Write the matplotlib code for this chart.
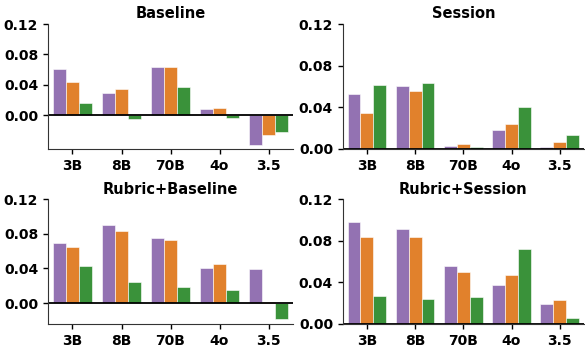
import numpy as np
import matplotlib
matplotlib.use('Agg')
import matplotlib.pyplot as plt

models = ['3B', '8B', '70B', '4o', '3.5']
colors = ['#9372b2', '#e1812c', '#3a923a']

# three series per panel (purple, orange, green)
baseline = [
    [0.061, 0.029, 0.063, 0.0087, -0.039],
    [0.0436, 0.0345, 0.0637, 0.010, -0.0253],
    [0.0166, -0.0048, 0.0371, -0.0039, -0.0223],
]
session = [
    [0.0525, 0.0608, 0.0032, 0.0181, 0.0016],
    [0.0344, 0.0557, 0.0045, 0.0236, 0.0067],
    [0.0618, 0.063, 0.0016, 0.0404, 0.0137],
]
rubric_baseline = [
    [0.0698, 0.0897, 0.0748, 0.0406, 0.0391],
    [0.0648, 0.0836, 0.0725, 0.0449, 0.0012],
    [0.0429, 0.0245, 0.0192, 0.0157, -0.0184],
]
rubric_session = [
    [0.0984, 0.091, 0.056, 0.0376, 0.0191],
    [0.084, 0.084, 0.050, 0.0468, 0.0229],
    [0.0271, 0.0236, 0.0264, 0.0719, 0.006],
]

titles = ['Baseline', 'Session', 'Rubric+Baseline', 'Rubric+Session']
panels = [baseline, session, rubric_baseline, rubric_session]
ylims = [(-0.044, 0.12), (0, 0.12), (-0.024, 0.12), (0, 0.12)]

fig = plt.figure(figsize=(5.85, 3.48), dpi=100)
positions = [
    [0.082, 0.572, 0.419, 0.359],
    [0.586, 0.572, 0.412, 0.359],
    [0.082, 0.069, 0.419, 0.359],
    [0.586, 0.069, 0.412, 0.359],
]

x = np.arange(len(models))
width = 0.8 / 3

for pos, title, data, ylim in zip(positions, titles, panels, ylims):
    ax = fig.add_axes(pos)
    for i, vals in enumerate(data):
        ax.bar(x - 0.4 + width * (i + 0.5), vals, width, color=colors[i],
               edgecolor='white', linewidth=0.4)
    ax.axhline(0, color='black', linewidth=1.3)
    ax.set_xlim(-0.5, 4.5)
    ax.set_ylim(*ylim)
    ax.set_yticks([0, 0.04, 0.08, 0.12])
    ax.set_yticklabels(['0.00', '0.04', '0.08', '0.12'])
    ax.set_xticks(x)
    ax.set_xticklabels(models)
    ax.tick_params(axis='both', labelsize=10, width=1, length=3.5)
    for lab in ax.get_xticklabels() + ax.get_yticklabels():
        lab.set_fontweight('bold')
    ax.spines['top'].set_visible(False)
    ax.spines['right'].set_visible(False)
    ax.spines['left'].set_color('#333333')
    ax.spines['bottom'].set_color('#333333')
    ax.set_title(title, fontsize=10.5, fontweight='bold', pad=4)

plt.savefig('out.png', dpi=100)
